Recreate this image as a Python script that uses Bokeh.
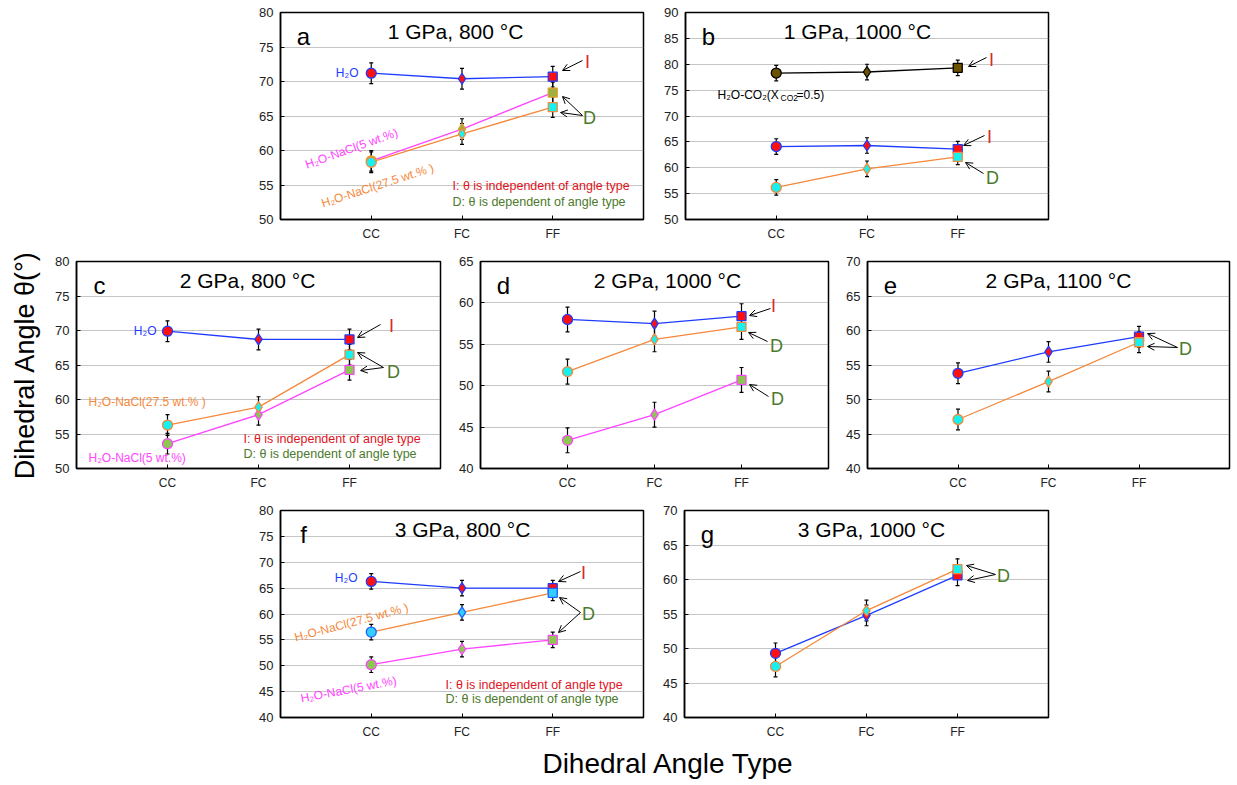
import math
from bokeh.plotting import figure
from bokeh.layouts import column, row
from bokeh.models import (Range1d, FixedTicker, ColumnDataSource, Whisker, TeeHead,
                          Label, Arrow, OpenHead, Spacer)
from bokeh.embed import file_html
from bokeh.resources import INLINE

FONT = "Liberation Sans"

# ---------------- data ----------------
angle_types = ["CC", "FC", "FF"]
xpos = [1, 2, 3]
err = 1.5

a_h2o = [71.2, 70.4, 70.7]
a_nacl5 = [58.5, 63.1, 68.4]
a_nacl27 = [58.3, 62.4, 66.3]

b_co2 = [78.3, 78.5, 79.3]
b_h2o = [64.1, 64.3, 63.6]
b_nacl27 = [56.2, 59.8, 62.1]

c_h2o = [69.9, 68.7, 68.7]
c_nacl27 = [56.3, 58.9, 66.5]
c_nacl5 = [53.6, 57.8, 64.3]

d_h2o = [58.0, 57.5, 58.4]
d_nacl27 = [51.7, 55.6, 57.1]
d_nacl5 = [43.4, 46.5, 50.7]

e_h2o = [53.8, 56.9, 59.1]
e_nacl27 = [47.1, 52.6, 58.3]

f_h2o = [66.3, 65.0, 65.0]
f_nacl27 = [56.5, 60.3, 64.1]
f_nacl5 = [50.2, 53.2, 55.0]

g_h2o = [49.3, 54.8, 60.6]
g_nacl27 = [47.4, 55.5, 61.5]

# ---------------- styles ----------------
BLUE = "#1E3CFF"
RED_FILL = "#FF1010"
ORANGE = "#F5883A"
CYAN = "#18F0F0"
MAGENTA = "#FF44FF"
GREEN_FILL = "#8CC850"
TXT_RED = "#E0141E"
TXT_GREEN = "#4B7A2A"

S_H2O = dict(line=BLUE, fill=RED_FILL, edge=BLUE)
S_N27 = dict(line=ORANGE, fill=CYAN, edge=ORANGE)
S_N5 = dict(line=MAGENTA, fill=GREEN_FILL, edge=MAGENTA)
S_N5_A = dict(line=MAGENTA, fill="#9DB040", edge="#DDA030")
S_N27_F = dict(line=ORANGE, fill="#35CCFF", edge="#1E64FF")
S_CO2 = dict(line="black", fill="#6B5200", edge="black")

MARKERS = ["circle", "diamond", "square"]
MSIZES = [10, 11, 9]
FH = 207


def make_panel(letter, title, title_cx, ylo, yhi, series, bl, fw, br, bt, bb, ylabel=None):
    p = figure(width=bl + fw + br, height=bt + FH + bb,
               x_range=Range1d(0, 4), y_range=Range1d(ylo, yhi),
               output_backend="svg", toolbar_location=None,
               min_border_left=bl, min_border_right=br, min_border_top=bt, min_border_bottom=bb)
    p.xaxis.ticker = FixedTicker(ticks=xpos)
    p.xaxis.major_label_overrides = {x: t for x, t in zip(xpos, angle_types)}
    p.yaxis.ticker = FixedTicker(ticks=list(range(ylo, yhi + 1, 5)))
    for ax in (p.xaxis[0], p.yaxis[0]):
        ax.major_tick_in = 4
        ax.major_tick_out = 0
        ax.minor_tick_in = 0
        ax.minor_tick_out = 0
        ax.axis_line_color = "black"
        ax.axis_line_width = 1.5
        ax.major_tick_line_color = "black"
        ax.major_label_text_font = FONT
        ax.major_label_text_color = "#222222"
        ax.major_label_standoff = 7
    p.xaxis.major_label_text_font_size = "12px"
    p.yaxis.major_label_text_font_size = "13px"
    if ylabel:
        p.yaxis.axis_label = ylabel
        p.yaxis.axis_label_text_font = FONT
        p.yaxis.axis_label_text_font_size = "27px"
        p.yaxis.axis_label_text_font_style = "normal"
        p.yaxis.axis_label_text_color = "black"
        p.yaxis.axis_label_standoff = 12
    p.xgrid.visible = False
    p.ygrid.grid_line_color = "#8a8a8a"
    p.ygrid.grid_line_dash = "1 1"
    p.ygrid.grid_line_width = 1
    p.outline_line_color = "black"
    p.outline_line_width = 1.5
    p.outline_line_alpha = 1

    def conv(rx, ry):
        return rx / fw * 4.0, yhi - ry / FH * (yhi - ylo)

    srcs = []
    for vals, st in series:
        src = ColumnDataSource(dict(x=xpos, y=vals,
                                    upper=[v + err for v in vals],
                                    lower=[v - err for v in vals],
                                    marker=MARKERS, size=MSIZES))
        srcs.append((src, st))
        p.line("x", "y", source=src, line_color=st["line"], line_width=1.3)
    for src, st in srcs:
        p.add_layout(Whisker(source=src, base="x", upper="upper", lower="lower",
                             line_color="black", line_width=1.2, level="underlay",
                             upper_head=TeeHead(size=4, line_color="black", line_width=1.2),
                             lower_head=TeeHead(size=4, line_color="black", line_width=1.2)))
    for src, st in srcs:
        p.scatter("x", "y", source=src, marker="marker", size="size",
                  fill_color=st["fill"], line_color=st["edge"], line_width=1.3)

    # title and panel letter
    tx, _ = conv(title_cx, 0)
    p.add_layout(Label(x=tx, y=yhi, y_offset=-19, text=title, text_font=FONT,
                       text_font_size="21px", text_align="center",
                       text_baseline="alphabetic", text_color="black"))
    lx, _ = conv(23, 0)
    p.add_layout(Label(x=lx, y=yhi, y_offset=-24, text=letter, text_font=FONT,
                       text_font_size="24px", text_align="center",
                       text_baseline="alphabetic", text_color="black"))
    return p, conv


def add_text(p, conv, rx, ry, text, color, size="12px", align="left", angle=0.0, y=None):
    x, yy = conv(rx, ry)
    if y is not None:
        yy = y
    p.add_layout(Label(x=x, y=yy, text=text, text_font=FONT, text_font_size=size,
                       text_color=color, text_align=align, text_baseline="middle",
                       angle=math.radians(angle)))


def add_arrow(p, conv, tail, tip):
    x0, y0 = conv(*tail)
    x1, y1 = conv(*tip)
    p.add_layout(Arrow(x_start=x0, y_start=y0, x_end=x1, y_end=y1,
                       line_color="black", line_width=1,
                       end=OpenHead(size=7, line_color="black", line_width=1)))


def add_legend(p, conv, rx, ry1, ry2):
    add_text(p, conv, rx, ry1, "I: θ is independent of angle type", TXT_RED, size="12.5px")
    add_text(p, conv, rx, ry2, "D: θ is dependent of angle type", TXT_GREEN, size="12.5px")


def letter_I(p, conv, rx, ry):
    add_text(p, conv, rx, ry, "I", "#D42A2A", size="18px", align="center")


def letter_D(p, conv, rx, ry):
    add_text(p, conv, rx, ry, "D", TXT_GREEN, size="18px", align="center")


# ---------------- panel a ----------------
pa, ca = make_panel("a", "1 GPa, 800 °C", 175, 50, 80,
                    [(a_h2o, S_H2O), (a_nacl5, S_N5_A), (a_nacl27, S_N27)],
                    40, 363, 2, 12, 26)
add_text(pa, ca, 78, 0, "H₂O", BLUE, align="right", y=a_h2o[0])
add_text(pa, ca, 71, 136, "H₂O-NaCl(5 wt.%)", MAGENTA, angle=19.7, align="center")
add_text(pa, ca, 97, 173, "H₂O-NaCl(27.5 wt.% )", ORANGE, angle=18, align="center")
add_legend(pa, ca, 172, 173, 189)
letter_I(pa, ca, 307, 49)
add_arrow(pa, ca, (302, 48), (282, 58))
letter_D(pa, ca, 309, 105)
add_arrow(pa, ca, (302, 103), (282, 84))
add_arrow(pa, ca, (302, 103), (280, 100))

# ---------------- panel b ----------------
pb, cb = make_panel("b", "1 GPa, 1000 °C", 172, 50, 90,
                    [(b_co2, S_CO2), (b_h2o, S_H2O), (b_nacl27, S_N27)],
                    40, 363, 4, 12, 26)
bx, by = cb(32, 82)
pb.add_layout(Label(x=bx, y=by, text="H₂O-CO₂(X", text_font=FONT, text_font_size="12px",
                    text_color="black", text_baseline="middle"))
pb.add_layout(Label(x=bx, y=by, x_offset=63, y_offset=-3, text="CO2", text_font=FONT,
                    text_font_size="8.5px", text_color="black", text_baseline="middle"))
pb.add_layout(Label(x=bx, y=by, x_offset=79, text="=0.5)", text_font=FONT, text_font_size="12px",
                    text_color="black", text_baseline="middle"))
letter_I(pb, cb, 306, 47)
add_arrow(pb, cb, (301, 45), (283, 54))
letter_I(pb, cb, 304, 124)
add_arrow(pb, cb, (299, 123), (278, 133))
letter_D(pb, cb, 307, 165)
add_arrow(pb, cb, (298, 161), (280, 150))

# ---------------- panel c ----------------
pc, cc = make_panel("c", "2 GPa, 800 °C", 171, 50, 80,
                    [(c_h2o, S_H2O), (c_nacl5, S_N5), (c_nacl27, S_N27)],
                    76, 364, 2, 16, 27, ylabel="Dihedral Angle θ(°)")
add_text(pc, cc, 80, 0, "H₂O", BLUE, align="right", y=c_h2o[0])
add_text(pc, cc, 12, 140, "H₂O-NaCl(27.5 wt.% )", ORANGE)
add_text(pc, cc, 12, 196, "H₂O-NaCl(5 wt.%)", MAGENTA)
add_legend(pc, cc, 167, 177, 192)
letter_I(pc, cc, 315, 64)
add_arrow(pc, cc, (304, 63), (281, 76))
letter_D(pc, cc, 317, 110)
add_arrow(pc, cc, (307, 106), (281, 91))
add_arrow(pc, cc, (307, 106), (284, 109))

# ---------------- panel d ----------------
pd_, cd = make_panel("d", "2 GPa, 1000 °C", 187, 40, 65,
                     [(d_h2o, S_H2O), (d_nacl5, S_N5), (d_nacl27, S_N27)],
                     38, 348, 2, 16, 27)
letter_I(pd_, cd, 293, 44)
add_arrow(pd_, cd, (290, 47), (269, 54))
letter_D(pd_, cd, 296, 84)
add_arrow(pd_, cd, (287, 80), (268, 71))
letter_D(pd_, cd, 297, 137)
add_arrow(pd_, cd, (288, 135), (269, 123))

# ---------------- panel e ----------------
pe, ce = make_panel("e", "2 GPa, 1100 °C", 191, 40, 70,
                    [(e_h2o, S_H2O), (e_nacl27, S_N27)],
                    37, 362, 6, 16, 27)
letter_D(pe, ce, 318, 87)
add_arrow(pe, ce, (310, 86), (280, 72))
add_arrow(pe, ce, (310, 86), (280, 85))

# ---------------- panel f ----------------
pf, cf = make_panel("f", "3 GPa, 800 °C", 182, 40, 80,
                    [(f_h2o, S_H2O), (f_nacl5, S_N5), (f_nacl27, S_N27_F)],
                    40, 363, 2, 15, 28)
add_text(pf, cf, 77, 67, "H₂O", BLUE, align="right")
add_text(pf, cf, 71, 112, "H₂O-NaCl(27.5 wt.% )", ORANGE, angle=15, align="center")
add_text(pf, cf, 68, 179, "H₂O-NaCl(5 wt.%)", MAGENTA, angle=10.7, align="center")
add_legend(pf, cf, 165, 174, 188)
letter_I(pf, cf, 303, 62)
add_arrow(pf, cf, (300, 61), (278, 71))
letter_D(pf, cf, 308, 103)
add_arrow(pf, cf, (300, 102), (279, 87))
add_arrow(pf, cf, (300, 102), (278, 122))

# ---------------- panel g ----------------
pg, cg = make_panel("g", "3 GPa, 1000 °C", 187, 40, 70,
                    [(g_h2o, S_H2O), (g_nacl27, S_N27)],
                    39, 364, 4, 15, 28)
letter_D(pg, cg, 319, 65)
add_arrow(pg, cg, (311, 64), (282, 55))
add_arrow(pg, cg, (311, 64), (283, 70))

# ---------------- x label ----------------
pxl = figure(width=1237, height=40, x_range=Range1d(0, 1237), y_range=Range1d(0, 40),
             output_backend="svg", toolbar_location=None, min_border=0,
             x_axis_type=None, y_axis_type=None)
pxl.grid.visible = False
pxl.outline_line_color = None
pxl.add_layout(Label(x=668, y=22, text="Dihedral Angle Type", text_font=FONT,
                     text_font_size="28px", text_align="center", text_baseline="middle",
                     text_color="black"))

layout = column(
    row(Spacer(width=240, height=245), pa, pb),
    row(pc, pd_, pe),
    row(Spacer(width=240, height=250), pf, pg),
    pxl,
)

open("out.html", "w").write(file_html(layout, INLINE))
